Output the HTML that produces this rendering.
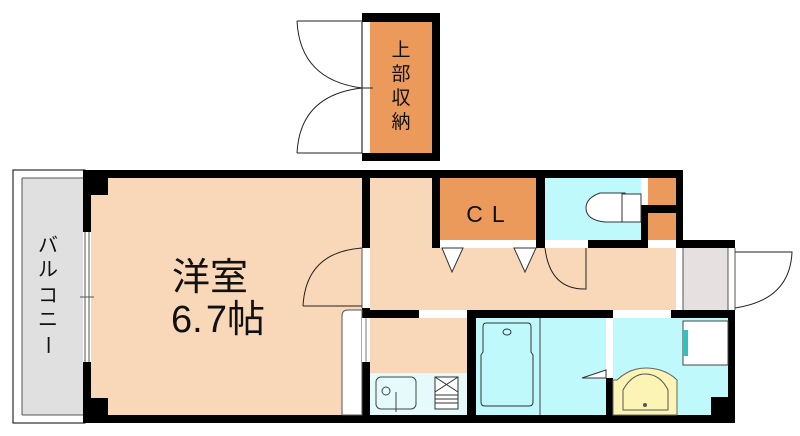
<!DOCTYPE html>
<html><head><meta charset="utf-8"><style>
body{margin:0;background:#fff}
svg{display:block}
text{font-family:"Liberation Sans","Noto Sans CJK JP",sans-serif;fill:#111}
</style></head><body>
<svg width="800" height="436" viewBox="0 0 800 436" xmlns="http://www.w3.org/2000/svg">
<!-- upper storage -->
<rect x="362" y="13" width="78" height="148" fill="#000"/>
<rect x="370" y="22" width="62" height="131" fill="#ec9a5c"/>
<rect x="362" y="22" width="8" height="131" fill="#fff"/>
<line x1="362" y1="22" x2="362" y2="153" stroke="#000" stroke-width="1"/>
<g fill="none" stroke="#222" stroke-width="1">
<line x1="297" y1="21" x2="362" y2="21"/><path d="M297,21 Q300,80 362,88"/>
<line x1="297" y1="153" x2="362" y2="153"/><path d="M297,153 Q300,95 362,88"/>
<line x1="362" y1="88" x2="373" y2="88"/>
</g>
<text x="401" y="56" font-size="19" text-anchor="middle">上</text>
<text x="401" y="80" font-size="19" text-anchor="middle">部</text>
<text x="401" y="104" font-size="19" text-anchor="middle">収</text>
<text x="401" y="128" font-size="19" text-anchor="middle">納</text>

<!-- balcony -->
<rect x="13" y="170" width="72" height="253" fill="#fff" stroke="#000" stroke-width="1"/>
<rect x="22" y="178" width="61" height="237" fill="#e0e0e0"/>
<line x1="22" y1="178" x2="22" y2="415" stroke="#555"/>
<line x1="22" y1="178" x2="83" y2="178" stroke="#555"/>
<line x1="22" y1="415" x2="83" y2="415" stroke="#555"/>
<text x="48" y="252" font-size="20" text-anchor="middle">バ</text>
<text x="48" y="276" font-size="20" text-anchor="middle">ル</text>
<text x="48" y="302" font-size="20" text-anchor="middle">コ</text>
<text x="48" y="326" font-size="20" text-anchor="middle">ニ</text>
<text x="48" y="352" font-size="20" text-anchor="middle" transform="rotate(90 48 345)">ー</text>

<!-- floor fills -->
<rect x="83" y="170" width="652" height="253" fill="#000"/>
<rect x="91" y="178" width="271" height="237" fill="#f8d8b8"/>
<rect x="370" y="178" width="62" height="132" fill="#f8d8b8"/>
<rect x="370" y="248" width="306" height="62" fill="#f8d8b8"/>
<rect x="440" y="178" width="96" height="62" fill="#ec9a5c"/>
<rect x="545" y="178" width="96" height="62" fill="#bff9fb"/>
<rect x="648" y="178" width="28" height="27" fill="#ec9a5c"/>
<rect x="648" y="213" width="28" height="27" fill="#ec9a5c"/>
<rect x="641" y="178" width="7" height="27" fill="#fff"/>
<rect x="440" y="240" width="96" height="8" fill="#fff"/>
<rect x="545" y="240" width="43" height="8" fill="#fff"/>
<rect x="648" y="240" width="28" height="8" fill="#fff"/>
<rect x="683" y="160" width="117" height="80" fill="#fff"/>
<rect x="735" y="240" width="65" height="196" fill="#fff"/>
<rect x="676" y="248" width="59" height="62" fill="#fff"/>
<rect x="683" y="248" width="45" height="62" fill="#e6e0e0"/>
<line x1="683" y1="248" x2="683" y2="310" stroke="#555"/>
<line x1="728" y1="248" x2="728" y2="310" stroke="#555"/>
<line x1="735" y1="248" x2="735" y2="310" stroke="#555"/>
<rect x="91" y="178" width="17" height="17" fill="#000"/>
<rect x="91" y="398" width="17" height="17" fill="#000"/>
<rect x="83" y="232" width="8" height="130" fill="#fff"/>
<line x1="85" y1="232" x2="85" y2="362" stroke="#555"/>
<line x1="89" y1="232" x2="89" y2="362" stroke="#555"/>
<line x1="80" y1="297" x2="94" y2="297" stroke="#555"/>

<text x="210" y="290" font-size="38" text-anchor="middle">洋室</text>
<text x="218" y="332" font-size="38" text-anchor="middle">6.&#8202;7帖</text>

<rect x="362" y="248" width="8" height="60" fill="#fff"/>
<line x1="362" y1="248" x2="362" y2="308" stroke="#555"/>
<path d="M303,306 L362,306 M303,306 Q306,252 362,248" fill="none" stroke="#222"/>
<path d="M342,415 L342,316 Q342,310 348,310 L362,310 L362,415 Z" fill="#fff" stroke="#555" stroke-width="1"/>
<path d="M442,248 L463,248 L452,272 Z M514,248 L536,248 L525,272 Z" fill="#fff" stroke="#333"/>
<text x="490" y="222" font-size="23" text-anchor="middle" letter-spacing="9">CL</text>
<path d="M586,248 L586,289 Q550,290 545,248" fill="none" stroke="#222"/>
<path d="M625,193 L600,193 Q586,198 586,208 Q586,220 605,222 L628,222 Z" fill="#fff" stroke="#333"/>
<rect x="622" y="194" width="19" height="28" fill="#fff" stroke="#333"/>
<path d="M735,252 L792,252 Q790,300 735,308" fill="none" stroke="#222"/>

<rect x="370" y="318" width="97" height="55" fill="#f8d8b8"/>
<rect x="370" y="373" width="97" height="42" fill="#e4fafb"/>
<rect x="362" y="318" width="8" height="44" fill="#fff"/>
<line x1="366" y1="318" x2="366" y2="362" stroke="#777"/>
<rect x="419" y="310" width="48" height="8" fill="#fff"/>
<rect x="476" y="318" width="130" height="97" fill="#bff9fb"/>
<line x1="540" y1="318" x2="540" y2="415" stroke="#444"/>
<rect x="606" y="318" width="7" height="60" fill="#fff"/>
<rect x="613" y="318" width="115" height="97" fill="#bff9fb"/>
<rect x="613" y="310" width="58" height="8" fill="#fff"/>
<path d="M486,323 L528,323 Q531,323 531,327 L531,352 L533,355 L533,402 Q533,406 529,406 L485,406 Q481,406 481,402 L481,355 L483,352 L483,327 Q483,323 486,323 Z" fill="none" stroke="#333"/>
<ellipse cx="507" cy="332" rx="4" ry="3" fill="none" stroke="#333"/>
<path d="M606,370 L582,378 L606,378 Z" fill="#fff" stroke="#333"/>
<rect x="376" y="377" width="40" height="32" rx="5" fill="none" stroke="#444"/>
<circle cx="386" cy="391" r="4" fill="none" stroke="#444"/>
<line x1="396" y1="392" x2="396" y2="412" stroke="#444"/>
<rect x="435" y="377" width="23" height="32" fill="#fff" stroke="#333"/>
<path d="M435,377 L458,392 M458,377 L435,392 M435,395 H458 M435,399 H458 M435,403 H458" stroke="#333"/>
<rect x="683" y="321" width="45" height="44" fill="#fff" stroke="#444"/>
<rect x="683" y="330" width="5" height="26" fill="#2fc0c0"/>
<path d="M613,380 L617,380 Q635,363 660,370 Q670,373 677,380 L677,415 L613,415 Z" fill="#fbf4b4" stroke="#666"/>
<path d="M623,410 L623,390 Q632,374 645,374 Q660,374 668,390 L668,410 Z" fill="none" stroke="#555"/>
<circle cx="645" cy="405" r="2" fill="#555"/>
<rect x="711" y="397" width="17" height="18" fill="#000"/>
</svg>
</body></html>
